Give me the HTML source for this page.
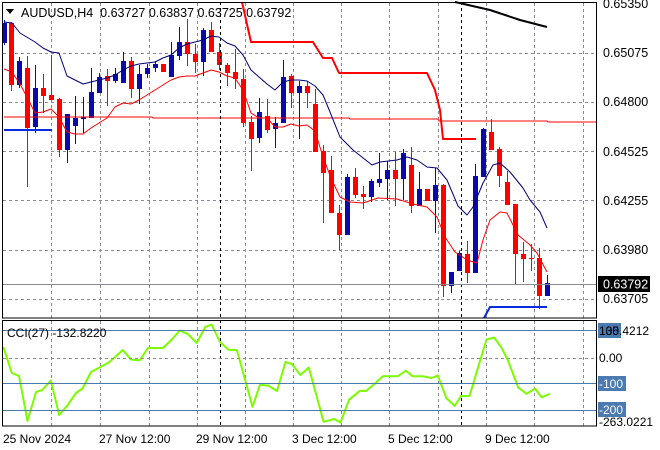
<!DOCTYPE html>
<html><head><meta charset="utf-8"><style>
html,body{margin:0;padding:0;background:#fff;}
svg{display:block;font-family:"Liberation Sans",sans-serif;font-size:12px;}
</style></head><body>
<svg id="c" width="660" height="450" xmlns="http://www.w3.org/2000/svg">
<rect width="660" height="450" fill="#fff"/>
<g id="grid" stroke="#8a8a96" stroke-dasharray="3,3" stroke-width="1"></g>
<g id="cand"></g>
<g id="lines" fill="none"></g>
<rect x="2.5" y="2.5" width="594" height="315.5" fill="none" stroke="#000"/>
<rect x="2.5" y="320.5" width="594" height="105.5" fill="none" stroke="#000"/>
<line x1="220.5" y1="2" x2="220.5" y2="426" stroke="#000" stroke-dasharray="3,3"/>
<line x1="461.5" y1="2" x2="461.5" y2="426" stroke="#000" stroke-dasharray="3,3"/>
<polygon points="6,9 14,9 10,14" fill="#000"/>
<text x="21" y="17" fill="#000" font-size="12.5">AUDUSD,H4&#160;&#160;0.63727 0.63837 0.63725 0.63792</text>
<g fill="#000" font-size="12.5">
<text x="603" y="8">0.65350</text>
<text x="603" y="57">0.65075</text>
<text x="603" y="106">0.64800</text>
<text x="603" y="156">0.64525</text>
<text x="603" y="205">0.64255</text>
<text x="603" y="254">0.63980</text>
<text x="603" y="303">0.63705</text>
</g>
<line x1="3" y1="284.5" x2="596" y2="284.5" stroke="#8a8a96"/>
<rect x="598" y="276" width="52" height="16" fill="#000"/>
<text x="603" y="288.5" fill="#fff" font-size="12.5">0.63792</text>
<line x1="3" y1="330.5" x2="596" y2="330.5" stroke="#4a7ab0"/>
<line x1="3" y1="358.5" x2="596" y2="358.5" stroke="#8a8a96" stroke-dasharray="3,3"/>
<line x1="3" y1="383.5" x2="596" y2="383.5" stroke="#4a7ab0"/>
<line x1="3" y1="410.5" x2="596" y2="410.5" stroke="#4a7ab0"/>
<text x="7" y="337" fill="#000">CCI(27) -132.8220</text>
<rect x="598" y="323" width="23" height="15" fill="#4a7ab0"/>
<text x="599" y="335" fill="#000">100</text>
<text x="599" y="335" fill="#000">135.4212</text>
<text x="599" y="362" fill="#000">0.00</text>
<rect x="598" y="376" width="28" height="15" fill="#4a7ab0"/>
<text x="599" y="388" fill="#fff">-100</text>
<rect x="598" y="402" width="28" height="15" fill="#4a7ab0"/>
<text x="599" y="414" fill="#fff">-200</text>
<text x="599" y="426" fill="#000">-263.0221</text>
<g fill="#000">
<text x="3" y="443">25 Nov 2024</text>
<text x="99" y="443">27 Nov 12:00</text>
<text x="196" y="443">29 Nov 12:00</text>
<text x="292" y="443">3 Dec 12:00</text>
<text x="388" y="443">5 Dec 12:00</text>
<text x="485" y="443">9 Dec 12:00</text>
</g>
</svg>
<script>
var NS="http://www.w3.org/2000/svg";
function el(p,t,a){var e=document.createElementNS(NS,t);for(var k in a)e.setAttribute(k,a[k]);document.getElementById(p).appendChild(e);return e;}
[51,100,149,197,245,293,341,389,438,486,534,583].forEach(function(x){el('grid','line',{x1:x+.5,y1:3,x2:x+.5,y2:318});el('grid','line',{x1:x+.5,y1:321,x2:x+.5,y2:426});});
[53,102,151,200,250,299].forEach(function(y){el('grid','line',{x1:3,y1:y+.5,x2:596,y2:y+.5});});
var C=[[4,'b',23,43,20,45],[11,'r',23,85,22,91],[19,'b',61,85,57,88],[27,'r',68,128,56,187],[35,'b',88,127,65,133],[43,'r',88,96,74,113],[51,'r',95,100,55,100],[59,'r',99,150,98,157],[67,'b',114,150,114,163],[75,'b',118,126,96,144],[83,'b',117,119,97,133],[91,'b',92,118,68,118],[99,'b',77,93,73,93],[107,'r',76,81,69,106],[115,'b',74,81,68,83],[123,'b',61,83,52,83],[131,'r',61,89,57,98],[139,'b',74,89,65,104],[147,'b',68,74,64,78],[155,'b',64,68,61,72],[163,'r',64,72,64,72],[171,'b',55,77,42,77],[179,'b',42,56,27,60],[187,'r',42,54,19,66],[195,'r',54,62,44,73],[203,'b',30,62,28,76],[211,'r',30,52,22,52],[219,'r',52,65,43,70],[227,'r',65,73,63,86],[235,'r',72,79,49,89],[243,'r',79,123,69,127],[251,'r',122,139,116,171],[259,'b',112,138,98,143],[267,'r',116,130,99,133],[275,'b',123,129,117,148],[283,'b',77,123,60,123],[291,'r',76,93,74,108],[299,'b',86,93,81,139],[307,'r',86,93,81,108],[315,'r',104,152,89,152],[323,'r',151,173,145,223],
[331,'r',170,213,156,213],[339,'r',213,235,205,250],[347,'b',177,235,174,235],[355,'r',177,195,168,198],[363,'r',194,197,186,209],[371,'b',181,197,179,202],[379,'b',179,183,153,187],[387,'b',170,179,161,200],[395,'r',170,179,152,206],[403,'b',153,179,149,200],[411,'r',165,206,147,213],[419,'b',189,206,172,206],[427,'r',189,201,189,201],[435,'b',185,201,168,233],[443,'r',185,286,184,297],[451,'b',272,286,272,293],[459,'b',253,271,251,271],[467,'r',254,273,241,283],[475,'b',176,273,164,273],[483,'b',129,177,128,177],[491,'r',132,150,119,150],[499,'r',149,176,147,187],[507,'r',182,205,171,205],[515,'r',204,254,204,284],[523,'r',254,259,242,282],[531,'r',258,259,244,271],[539,'r',258,296,248,309],[547,'b',283,296,275,296]];
C.forEach(function(c){var col=c[1]=='b'?'#0a0aa8':'#ff0000';
el('cand','line',{x1:c[0]+.5,y1:c[4],x2:c[0]+.5,y2:c[5],stroke:col});
el('cand','rect',{x:c[0]-2,y:c[2],width:5,height:Math.max(1,c[3]-c[2]),fill:col});});
function pl(pts,col,w){el('lines','polyline',{points:pts,stroke:col,'stroke-width':w,'stroke-linejoin':'round'});}
pl("4,117 152,117 153,118 349,118 350,119 438,119 439,121 547,121 548,122 596,122","#ff0000",1);
pl("4,22 12,23 20,33 35,42 43,48 51,52 59,53 67,76 75,80 83,84 91,82 99,80 107,78 115,75 123,70 131,66 139,64 147,63 155,62 163,58 171,55 179,48 187,44 195,42 203,40 211,36 219,37 227,43 235,46 243,55 251,70 259,77 267,84 275,90 283,82 291,80 299,80 307,81 315,86 323,95 330,112 340,137 353,150 372,165 380,162 397,160 407,157 417,160 427,167 437,168 447,180 458,206 467,215 473,207 483,183 493,165 500,163 510,172 523,188 530,200 540,212 547,228","#00007a",1);
pl("4,69 12,72 20,84 27,97 35,113 43,112 51,109 59,117 67,132 75,134 83,134 91,128 99,123 107,118 115,107 123,103 131,104 139,100 147,95 155,90 163,85 171,80 179,77 187,76 195,76 203,73 211,70 219,72 227,76 235,78 243,90 251,113 259,118 267,118 275,127 283,127 291,124 299,126 307,125 315,131 323,157 331,178 340,197 350,202 363,203 378,198 397,199 413,204 427,207 437,217 445,237 455,252 467,260 477,263 483,240 490,220 500,212 507,213 512,223 518,235 530,245 537,253 547,272","#ff0000",1);
pl("242,2 251,42 313,42 323,58 332,58 339,73 427,73 435,90 440,110 443,139 476,139","#ff0000",2);
pl("455,2 490,10 520,20 547,27","#000",2);
pl("4,130 52,130","#0a2ae0",2);
pl("484,318 490,307 547,307","#0a2ae0",2);
var cci=[[3.4,350],[11.8,376],[19,379],[27.5,424],[36,395],[42.3,393],[50.8,383.5],[59.2,418],[67.7,408],[76,396],[82.5,391.5],[91,375],[99.4,370.5],[108,366],[116.3,359],[122.7,353],[131,362.5],[139.6,363.5],[148,351],[163,351],[171.3,343],[179.8,333.5],[188.2,337.3],[196.7,346],[205.2,330],[211.5,327.5],[220,345],[228.4,352.7],[236.9,353],[252.5,409.8],[260,387.7],[268.6,388.8],[277,394],[285.5,365],[291.9,367],[300.3,378],[308.8,370.5],[323.6,424.8],[334.2,422],[340.5,425.5],[349,402.8],[359.6,394],[365.9,394],[374.4,387],[382.8,379.3],[397.6,379.3],[406,373.7],[412.4,379.3],[423,379.3],[431.5,381],[437.8,378.6],[446.3,401],[454.7,409],[461,399],[469.5,399],[486.5,342.5],[494,340.5],[501.3,350.3],[507.6,362.5],[518.2,390.5],[526.6,396.8],[535,391.5],[541.5,400.3],[550,396.8]];
pl(cci.map(function(p){return p[0]+","+(p[1]-3);}).join(" "),"#7cfc00",2);
</script>
</body></html>
